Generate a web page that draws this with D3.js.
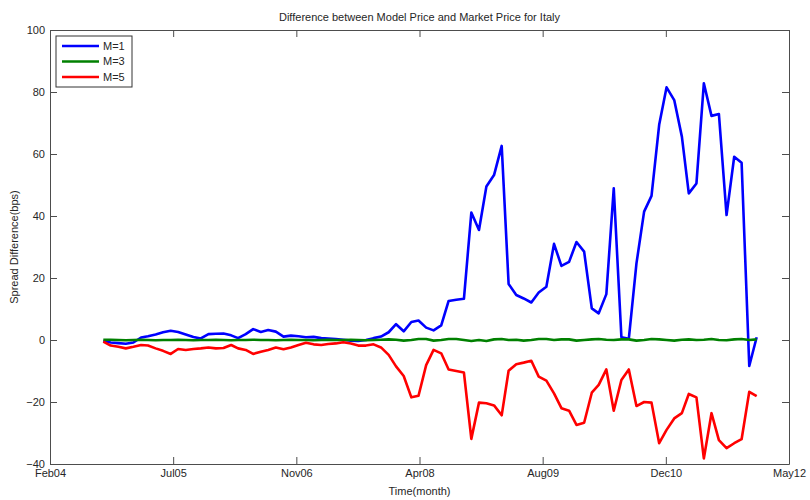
<!DOCTYPE html>
<html>
<head>
<meta charset="utf-8">
<script src="https://cdn.jsdelivr.net/npm/d3@7/dist/d3.min.js"></script>
<style>
    body { margin: 0; background: #fff; }
    text { font-family: "Liberation Sans", Arial, sans-serif; font-size: 11px; fill: #262626; }
    .axis path, .axis line { stroke: #4d4d4d; }
    .line { fill: none; stroke-linejoin: round; }
</style>
</head>
<body>
<svg class="chart"></svg>
<script>
// monthly observations, Sep 2004 .. Dec 2011
var firstMonth = new Date(2004, 8, 1);

var seriesNames = ["M=1", "M=3", "M=5"];
var seriesColors = ["#0000ff", "#008000", "#ff0000"];

var m1 = [-0.3, -0.8, -1.0, -1.2, -0.8, 0.8, 1.2, 1.8, 2.5, 3.0, 2.6, 1.8, 1.0, 0.5,
    1.9, 2.0, 2.1, 1.5, 0.6, 1.9, 3.5, 2.6, 3.2, 2.7, 1.1, 1.4, 1.2, 0.9,
    1.0, 0.6, 0.5, 0.3, 0.1, -0.2, -0.3, 0.0, 0.6, 1.1, 2.5, 5.1, 2.8, 5.8,
    6.3, 4.0, 3.1, 4.7, 12.6, 13.0, 13.3, 41.1, 35.5, 49.5, 53.2, 62.6, 18.1, 14.5,
    13.4, 12.1, 15.3, 17.2, 31.0, 23.9, 25.2, 31.6, 28.5, 10.2, 8.6, 14.8, 48.9, 0.9,
    0.4, 24.7, 41.4, 46.5, 69.4, 81.5, 77.4, 65.6, 47.3, 50.5, 82.8, 72.3, 72.9, 40.3,
    59.1, 57.2, -8.4, 0.9];

var m3 = [0.1, 0.1, 0.0, -0.1, 0.0, 0.1, 0.0, -0.1, 0.0, 0.0, 0.1, 0.0, -0.1, 0.0,
    0.0, 0.1, 0.0, -0.1, 0.0, 0.0, 0.1, 0.0, 0.0, -0.1, 0.0, 0.1, 0.0, 0.0,
    -0.1, 0.0, 0.1, 0.0, 0.0, 0.1, 0.0, -0.1, 0.0, 0.1, 0.2, 0.1, -0.2, 0.0,
    0.3, 0.3, -0.2, 0.0, 0.3, 0.3, 0.0, -0.3, 0.0, -0.3, 0.2, 0.3, 0.0, 0.1,
    -0.2, 0.0, 0.3, 0.3, 0.0, 0.2, 0.2, -0.2, 0.0, 0.2, 0.3, 0.1, 0.0, 0.2,
    0.2, -0.2, 0.0, 0.3, 0.2, 0.0, -0.2, 0.1, 0.2, 0.0, 0.1, 0.3, 0.0, -0.1,
    0.2, 0.3, 0.0, 0.2];

var m5 = [-0.5, -1.8, -2.2, -2.7, -2.2, -1.6, -1.8, -2.7, -3.5, -4.5, -2.9, -3.2, -2.9, -2.7,
    -2.4, -2.7, -2.6, -1.6, -2.7, -3.2, -4.5, -3.8, -3.2, -2.4, -3.0, -2.4, -1.6, -0.9,
    -1.4, -1.6, -1.3, -1.1, -0.7, -1.1, -1.8, -1.8, -1.4, -2.4, -4.8, -8.5, -11.6, -18.5,
    -18.0, -8.1, -3.2, -4.3, -9.5, -10.0, -10.5, -31.9, -20.2, -20.4, -21.1, -24.3, -9.9, -7.8,
    -7.3, -6.7, -11.8, -13.1, -17.2, -22.0, -22.8, -27.4, -26.7, -17.0, -14.5, -9.5, -22.8, -12.9,
    -9.5, -21.3, -20.0, -20.2, -33.3, -29.0, -25.3, -23.6, -17.4, -18.5, -38.2, -23.6, -32.3, -34.9,
    -33.3, -32.0, -16.7, -18.1];

var xTickLabels = ["Feb04", "Jul05", "Nov06", "Apr08", "Aug09", "Dec10", "May12"];
var yTicks = [-40, -20, 0, 20, 40, 60, 80, 100];

function show() {

    'use strict';

    var margin = {top: 30, right: 21, bottom: 36, left: 50},
        width = 810 - margin.left - margin.right,
        height = 500 - margin.top - margin.bottom;

    var svg = d3.select(".chart")
        .attr("width", width + margin.left + margin.right)
        .attr("height", height + margin.top + margin.bottom);

    var chart = svg.append("g")
        .attr("transform", "translate(" + margin.left + "," + margin.top + ")");

    // x limits as matlab left them, a little off the month starts
    var x = d3.scaleTime()
        .domain([new Date(2004, 0, 29), new Date(2012, 3, 10)])
        .range([0, width]);

    var y = d3.scaleLinear()
        .domain([-40, 100])
        .range([height, 0]);

    // datetick spreads the ticks evenly over the limits
    var x0 = +x.domain()[0], x1 = +x.domain()[1];
    var xTicks = xTickLabels.map(function(d, i) {
        return new Date(x0 + i * (x1 - x0) / (xTickLabels.length - 1));
    });

    var series = [m1, m3, m5].map(function(values, s) {
        return {
            name: seriesNames[s],
            color: seriesColors[s],
            values: values.map(function(v, i) {
                return {date: d3.timeMonth.offset(firstMonth, i), value: v};
            })
        };
    });

    // box with inward ticks on all four sides
    chart.append("g")
        .attr("class", "axis")
        .attr("transform", "translate(0," + height + ")")
        .call(d3.axisBottom(x).tickValues(xTicks)
            .tickFormat(function(d, i) { return xTickLabels[i]; })
            .tickSizeInner(-7).tickSizeOuter(0).tickPadding(5));

    chart.append("g")
        .attr("class", "axis")
        .call(d3.axisTop(x).tickValues(xTicks).tickFormat("")
            .tickSizeInner(-7).tickSizeOuter(0));

    chart.append("g")
        .attr("class", "axis")
        .call(d3.axisLeft(y).tickValues(yTicks)
            .tickSizeInner(-7).tickSizeOuter(0).tickPadding(5));

    chart.append("g")
        .attr("class", "axis")
        .attr("transform", "translate(" + width + ",0)")
        .call(d3.axisRight(y).tickValues(yTicks).tickFormat("")
            .tickSizeInner(-7).tickSizeOuter(0));

    chart.selectAll(".axis text")
        .style("font-family", null).style("font-size", null)
        .attr("fill", "#262626");
    chart.selectAll(".axis").attr("font-family", null).attr("font-size", null);

    var line = d3.line()
        .x(function(d) { return x(d.date); })
        .y(function(d) { return y(d.value); });

    chart.selectAll(".line")
        .data(series)
        .enter().append("path")
        .attr("class", "line")
        .attr("d", function(d) { return line(d.values); })
        .style("stroke", function(d) { return d.color; })
        .style("stroke-width", 2.6);

    // title and axis labels
    chart.append("text")
        .attr("x", width / 2)
        .attr("y", -9)
        .attr("text-anchor", "middle")
        .text("Difference between Model Price and Market Price for Italy");

    chart.append("text")
        .attr("x", width / 2)
        .attr("y", height + 31)
        .attr("text-anchor", "middle")
        .text("Time(month)");

    chart.append("text")
        .attr("transform", "translate(" + (-32) + "," + (height / 2) + ") rotate(-90)")
        .attr("text-anchor", "middle")
        .text("Spread Difference(bps)");

    // legend
    var legend = chart.append("g")
        .attr("transform", "translate(6,6)");

    legend.append("rect")
        .attr("width", 76)
        .attr("height", 51)
        .attr("fill", "#fff")
        .attr("stroke", "#333");

    var items = legend.selectAll(".item")
        .data(series)
        .enter().append("g")
        .attr("class", "item")
        .attr("transform", function(d, i) { return "translate(0," + (10 + i * 15.5) + ")"; });

    items.append("line")
        .attr("x1", 6).attr("x2", 43)
        .attr("stroke", function(d) { return d.color; })
        .attr("stroke-width", 2.6);

    items.append("text")
        .attr("x", 47)
        .attr("dy", "0.35em")
        .text(function(d) { return d.name; });
}

show();
</script>
</body>
</html>
